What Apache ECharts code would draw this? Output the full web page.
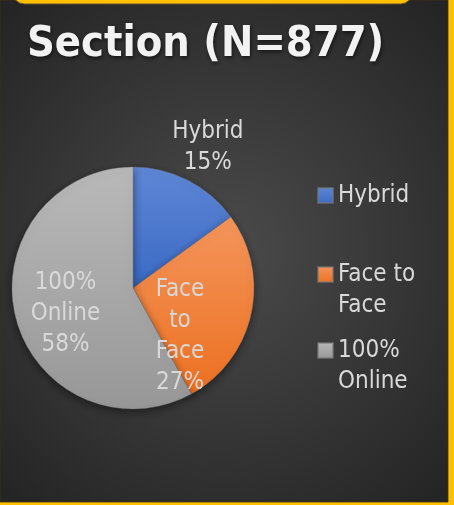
<!DOCTYPE html>
<html>
<head>
<meta charset="utf-8">
<script src="https://cdn.jsdelivr.net/npm/echarts@6/dist/echarts.min.js"></script>
<style>
  html, body { margin: 0; padding: 0; background: #FFC000; }
  #chart { width: 454px; height: 505px; }
</style>
</head>
<body>
<div id="chart"></div>
<script>
// Enrolment by course section (share of respondents, N=877)
const titleText = 'Section (N=877)';
const categories = ['Hybrid', 'Face to Face', '100% Online'];
const shares = [15, 27, 58];
// how each category name wraps inside the pie and in the legend
const sliceLabelText = ['Hybrid', 'Face\nto\nFace', '100%\nOnline'];
const legendText = ['Hybrid', 'Face to\nFace', '100%\nOnline'];

const FONT = '"DejaVu Sans Condensed", "DejaVu Sans", sans-serif';
const TEXT_COLOR = '#d9d9d9';

function vGrad(top, bottom) {
  return new echarts.graphic.LinearGradient(0, 0, 0, 1, [
    { offset: 0, color: top },
    { offset: 1, color: bottom }
  ]);
}
const sliceFills = [
  vGrad('#5f87d6', '#3a69c4'),
  vGrad('#f4955c', '#ec7020'),
  vGrad('#b9b9b9', '#979797')
];

// label nudges from the default in-slice anchor
const labelShift = [[46, -84], [-15, 34], [-6, 10]];

const legendIconTop = [188, 267, 343];
const LINE_H = 31;

const chart = echarts.init(document.getElementById('chart'), null, { renderer: 'canvas' });

// Legend text is centred on its icon; an empty leading line keeps the
// first line of a wrapped name level with the icon.
const legends = categories.map((name, i) => {
  const lines = legendText[i].split('\n').length;
  const shown = lines > 1 ? '\n'.repeat(lines - 1) + legendText[i] : legendText[i];
  const boxLines = lines > 1 ? 2 * lines - 1 : 1;
  const boxH = boxLines * LINE_H;
  return {
    orient: 'vertical',
    left: 317,
    top: legendIconTop[i] + 7.5 - boxH / 2,
    padding: 0,
    itemWidth: 15,
    itemHeight: 15,
    icon: 'rect',
    selectedMode: false,
    data: [name],
    formatter: () => shown,
    textStyle: {
      color: TEXT_COLOR,
      fontFamily: FONT,
      fontSize: 24,
      lineHeight: LINE_H
    }
  };
});

chart.setOption({
  backgroundColor: '#FFC000',
  animation: false,
  graphic: [
    {
      type: 'rect',
      z: -10,
      silent: true,
      shape: { x: 0, y: 0, width: 448, height: 502 },
      style: {
        fill: new echarts.graphic.RadialGradient(0.5, 0.5, 0.72, [
          { offset: 0, color: '#4b4b4b' },
          { offset: 1, color: '#252525' }
        ]),
        stroke: 'rgba(60,50,20,0.8)',
        lineWidth: 1
      }
    },
    {
      type: 'rect',
      z: -9,
      silent: true,
      shape: { x: 12.5, y: -30, width: 400, height: 34, r: 12 },
      style: { fill: '#FFC000', stroke: '#5e5030', lineWidth: 1 }
    }
  ],
  title: {
    text: titleText,
    left: 27,
    top: 23,
    padding: 0,
    textStyle: {
      color: '#f2f2f2',
      fontFamily: FONT,
      fontWeight: 'bold',
      fontSize: 43,
      textShadowColor: 'rgba(0,0,0,0.6)',
      textShadowBlur: 4,
      textShadowOffsetX: 1,
      textShadowOffsetY: 2
    }
  },
  legend: legends,
  series: [{
    type: 'pie',
    center: [133, 288],
    radius: 121,
    startAngle: 90,
    clockwise: true,
    silent: true,
    itemStyle: {
      borderColor: 'rgba(120,120,120,0.6)',
      borderWidth: 0.6,
      shadowBlur: 8,
      shadowColor: 'rgba(0,0,0,0.45)',
      shadowOffsetY: 3
    },
    label: {
      show: true,
      position: 'inside',
      color: TEXT_COLOR,
      fontFamily: FONT,
      fontSize: 24,
      lineHeight: LINE_H,
      align: 'center',
      formatter: (p) => sliceLabelText[p.dataIndex] + '\n' + p.value + '%'
    },
    labelLine: { show: false },
    labelLayout: (p) => ({ dx: labelShift[p.dataIndex][0], dy: labelShift[p.dataIndex][1] }),
    data: categories.map((name, i) => ({
      name: name,
      value: shares[i],
      itemStyle: { color: sliceFills[i] }
    }))
  }]
});
</script>
</body>
</html>
